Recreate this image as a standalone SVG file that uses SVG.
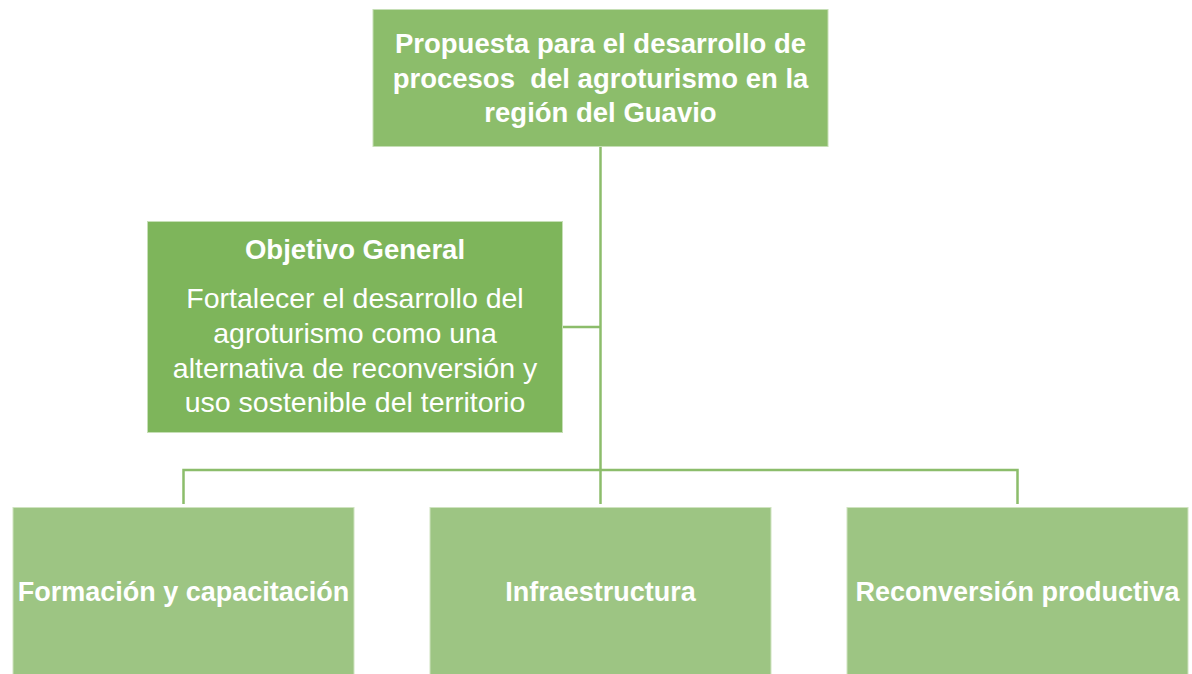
<svg xmlns="http://www.w3.org/2000/svg" width="1192" height="674" viewBox="0 0 1192 674">
<style>
.top{fill:#8cbd6b;stroke:#c6dfb6;stroke-width:1}
.obj{fill:#7eb55b;stroke:#c6dfb6;stroke-width:1}
.bot{fill:#9dc583;stroke:#cfe3c0;stroke-width:1}
.conn{stroke:#8cbd6b;stroke-width:2.5;fill:none}
text{font-family:"Liberation Sans",Arial,sans-serif;fill:#ffffff;text-anchor:middle}
.b{font-weight:bold}
</style>
<rect width="1192" height="674" fill="#ffffff"/>
<g id="connectors">
<path class="conn" d="M600.5 147V504"/>
<path class="conn" d="M563 327H600.5"/>
<path class="conn" d="M183.5 504V470H1017.5V504"/>
</g>
<g id="top">
<rect class="top" x="373" y="9.5" width="455" height="137"/>
<text class="b" font-size="27.5" xml:space="preserve" style="white-space:pre"><tspan x="600.5" y="53">Propuesta para el desarrollo de</tspan><tspan x="600.5" y="88">procesos  del agroturismo en la</tspan><tspan x="600.5" y="122">región del Guavio</tspan></text>
</g>
<g id="objetivo">
<rect class="obj" x="147.5" y="221.5" width="415" height="211"/>
<text class="b" font-size="27.5" x="355" y="259">Objetivo General</text>
<text font-size="28.5"><tspan x="355" y="308">Fortalecer el desarrollo del</tspan><tspan x="355" y="343">agroturismo como una</tspan><tspan x="355" y="378">alternativa de reconversión y</tspan><tspan x="355" y="412">uso sostenible del territorio</tspan></text>
</g>
<g id="formacion">
<rect class="bot" x="13" y="507.5" width="341" height="170"/>
<text class="b" font-size="27" x="183.5" y="601">Formación y capacitación</text>
</g>
<g id="infraestructura">
<rect class="bot" x="430" y="507.5" width="341" height="170"/>
<text class="b" font-size="27" x="600.5" y="601">Infraestructura</text>
</g>
<g id="reconversion">
<rect class="bot" x="847" y="507.5" width="341" height="170"/>
<text class="b" font-size="27" x="1017.5" y="601">Reconversión productiva</text>
</g>
</svg>
